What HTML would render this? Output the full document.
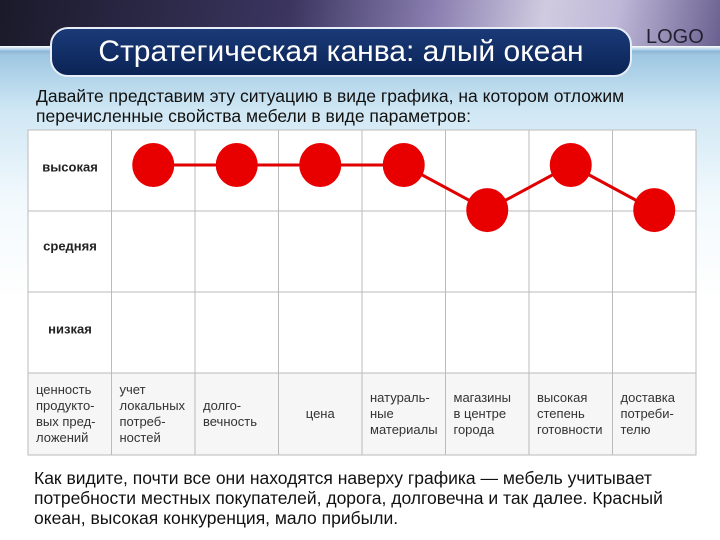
<!DOCTYPE html>
<html><head><meta charset="utf-8">
<style>
html,body{margin:0;padding:0}
body{width:720px;height:540px;position:relative;overflow:hidden;font-family:"Liberation Sans","DejaVu Sans",sans-serif;
background:linear-gradient(to bottom,#2a2440 0px,#5a4f80 30px,#9ec7e2 55px,#cfe7f4 110px,#f2f9fd 200px,#fff 300px);}
.banner{position:absolute;left:0;top:0;width:720px;height:50px;background:linear-gradient(100deg,#1a1a2a 0%,#3b3560 40%,#8a7fb0 60%,#d0cbe0 75%,#bfb8d8 85%,#6a6090 100%)}
.stripe{position:absolute;left:0;top:46px;width:720px;height:6px;background:linear-gradient(#ffffff,#7fb2d8)}
.title{position:absolute;left:50px;top:27px;width:582px;height:50px;border-radius:18px;background:linear-gradient(#1a3a78,#0b2456);border:2px solid #e8eef8;box-sizing:border-box;color:#fff;font-size:30px;line-height:46px;text-align:center}
.logo{position:absolute;left:646px;top:26px;font-size:20px;color:#223;}
.p{position:absolute;left:36px;color:#111;font-size:17.5px;line-height:20px}
svg{position:absolute;left:0;top:0}
</style></head><body>
<div class="banner"></div>
<div class="stripe"></div>
<div class="title">Стратегическая канва: алый океан</div>
<div class="logo">LOGO</div>
<div class="p" style="top:86px">Давайте представим эту ситуацию в виде графика, на котором отложим<br>перечисленные свойства мебели в виде параметров:</div>
<svg id="chart" width="720" height="540"></svg>
<div class="p" style="top:468px;left:34px;font-size:17.5px">Как видите, почти все они находятся наверху графика — мебель учитывает<br>потребности местных покупателей, дорога, долговечна и так далее. Красный<br>океан, высокая конкуренция, мало прибыли.</div>
<script>
const categories=["ценность|продукто-|вых пред-|ложений","учет|локальных|потреб-|ностей","долго-|вечность","цена","натураль-|ные|материалы","магазины|в центре|города","высокая|степень|готовности","доставка|потреби-|телю"];
const levels=["высокая","средняя","низкая"];
const values=[3,3,3,3,2.45,3,2.45];
const NS="http://www.w3.org/2000/svg";
const svg=document.getElementById('chart');
const L=28,R=696,T=130,rowH=81,labelRowTop=373,B=455;
const colW=(R-L)/8;
function x(i){return L+colW*(i+1)+colW/2;}
function y(v){return 165+(3-v)*82;}
function mk(t,a){const e=document.createElementNS(NS,t);for(const k in a)e.setAttribute(k,a[k]);svg.appendChild(e);return e;}
let bg=mk('rect',{x:L,y:T,width:R-L,height:B-T,fill:'#fff',stroke:'#bbb'});


let lr=mk('rect',{x:L,y:labelRowTop,width:R-L,height:B-labelRowTop,fill:'#f6f6f6',stroke:'#bbb'});


for(let i=1;i<8;i++){const g=mk('line',{x1:L+colW*i,x2:L+colW*i,y1:T,y2:B,stroke:'#bbb'});

}
for(let j=1;j<3;j++){const g=mk('line',{x1:L,x2:R,y1:T+rowH*j,y2:T+rowH*j,stroke:'#bbb'});

}
levels.forEach((lv,j)=>{const t=mk('text',{x:L+42,y:T+rowH*j+rowH/2+1-(j==1?2:0),'font-size':13,'font-weight':'bold','text-anchor':'middle',fill:'#222'});
t.textContent=lv;

});
categories.forEach((c,i)=>{const lines=c.split('|');const cx=i==3?L+colW*i+colW/2:L+colW*i+8;
const y0=414-(lines.length-1)*8+4;
lines.forEach((s,k)=>{const t=mk('text',{x:cx,y:y0+k*16,'font-size':13,fill:'#333','text-anchor':i==3?'middle':'start'});
t.textContent=s;

});});
let pts=values.map((v,i)=>x(i)+','+y(v)).join(' ');
let pl=mk('polyline',{points:pts,fill:'none',stroke:'#e00000','stroke-width':3});


values.forEach((v,i)=>{const e=mk('ellipse',{cx:x(i),cy:y(v),rx:21,ry:22,fill:'#e80000'});

});
</script>
</body></html>
